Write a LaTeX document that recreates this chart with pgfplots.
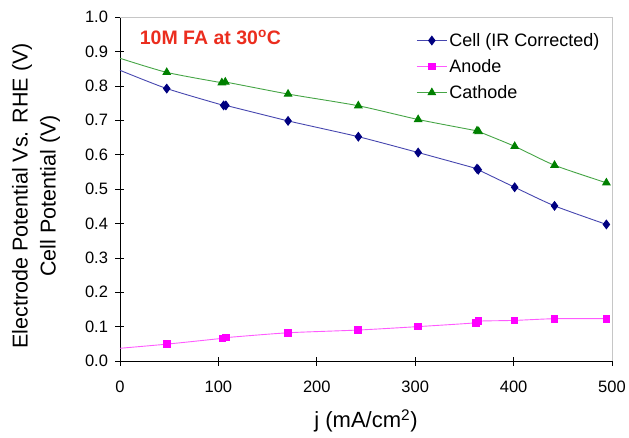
\documentclass[border=0pt]{standalone}
\usepackage{pgfplots}
\pgfplotsset{compat=1.18}
\usepackage{fontspec}
\setmainfont{Liberation Sans}
\definecolor{cellm}{RGB}{0,0,128}
\definecolor{celll}{RGB}{70,70,175}
\definecolor{anodem}{RGB}{255,0,255}
\definecolor{anodel}{RGB}{255,90,255}
\definecolor{cathm}{RGB}{0,128,0}
\definecolor{cathl}{RGB}{70,165,70}
\definecolor{titlered}{RGB}{235,45,30}
\begin{document}
\begin{tikzpicture}
\begin{axis}[
  scale only axis,
  width=492pt, height=344pt,
  xmin=0, xmax=500, ymin=0, ymax=1.0,
  xtick={0,100,...,500},
  ytick={0,0.1,...,1.0},
  yticklabel style={/pgf/number format/fixed, /pgf/number format/fixed zerofill, /pgf/number format/precision=1},
  /pgf/number format/assume math mode=true,
  axis x line*=bottom, axis y line*=left,
  axis line style={black, -},
  tick align=center,
  major tick length=9pt,
  tick style={black, line width=0.6pt},
  ticklabel style={font=\fontsize{16.5}{18}\selectfont},
  xticklabel style={yshift=-12pt},
  yticklabel style={xshift=-4pt},
  xlabel={j (mA/cm\textsuperscript{2})},
  xlabel style={font=\fontsize{22}{24}\selectfont, at={(rel axis cs:0.5,0)}, anchor=center, yshift=-60pt},
  ylabel={Electrode Potential Vs. RHE (V)\\Cell Potential (V)},
  ylabel style={font=\fontsize{21.5}{28}\selectfont, align=center, at={(rel axis cs:0,0.48)}, anchor=center, yshift=84pt},
  legend style={draw=none, fill=none, at={(rel axis cs:0.6,0.962)}, anchor=north west,
    font=\fontsize{18}{20}\selectfont, row sep=7.5pt, inner sep=1pt},
  legend cell align=left,
  legend image code/.code={\draw[mark repeat=2, mark phase=2] plot coordinates {(0pt,0pt) (15pt,0pt) (30pt,0pt)};},
  clip=false,
]
\draw[gray!45, line width=0.6pt] (rel axis cs:0,1) -- (rel axis cs:1,1) -- (rel axis cs:1,0);
\addplot[celll, line width=0.9pt, smooth, tension=0.4, mark=diamond*, mark size=4.3pt,
  mark options={cellm, fill=cellm, solid}, mark repeat=1, mark phase=2] coordinates {
(0,0.845) (47.5,0.792) (105.3,0.743) (107.6,0.743) (170.8,0.698) (242.2,0.652)
(303,0.606) (362.8,0.559) (364.1,0.556) (401.1,0.505) (441.6,0.451) (494.3,0.397)
};
\addlegendentry{Cell (IR Corrected)}
\addplot[anodel, line width=0.9pt, smooth, tension=0.4, mark=square*, mark size=3.3pt,
  mark options={anodem, fill=anodem, solid}, mark repeat=1, mark phase=2] coordinates {
(0,0.037) (47.5,0.049) (104.3,0.066) (107.6,0.068) (170.5,0.082) (242,0.090)
(303,0.100) (361.8,0.111) (364.1,0.116) (400.8,0.118) (441.6,0.123) (494.3,0.123)
};
\addlegendentry{Anode}
\addplot[cathl, line width=0.9pt, smooth, tension=0.4, mark=triangle*, mark size=4.3pt,
  mark options={cathm, fill=cathm, solid}, mark repeat=1, mark phase=2] coordinates {
(0,0.880) (47.5,0.839) (103.5,0.809) (107,0.811) (170.8,0.776) (242.2,0.742)
(303,0.702) (362.8,0.669) (364.5,0.667) (401.1,0.624) (441.6,0.569) (494.3,0.518)
};
\addlegendentry{Cathode}
\node[anchor=west, font=\bfseries\fontsize{19.5}{21}\selectfont, text=titlered, inner sep=0pt]
  at (rel axis cs:0.04,0.94) {10M FA at 30\textsuperscript{o}C};
\end{axis}
\pgfresetboundingbox
\path ([shift={(-120pt,-76pt)}]current axis.south west) rectangle ([shift={(17pt,17pt)}]current axis.north east);
\end{tikzpicture}
\end{document}
